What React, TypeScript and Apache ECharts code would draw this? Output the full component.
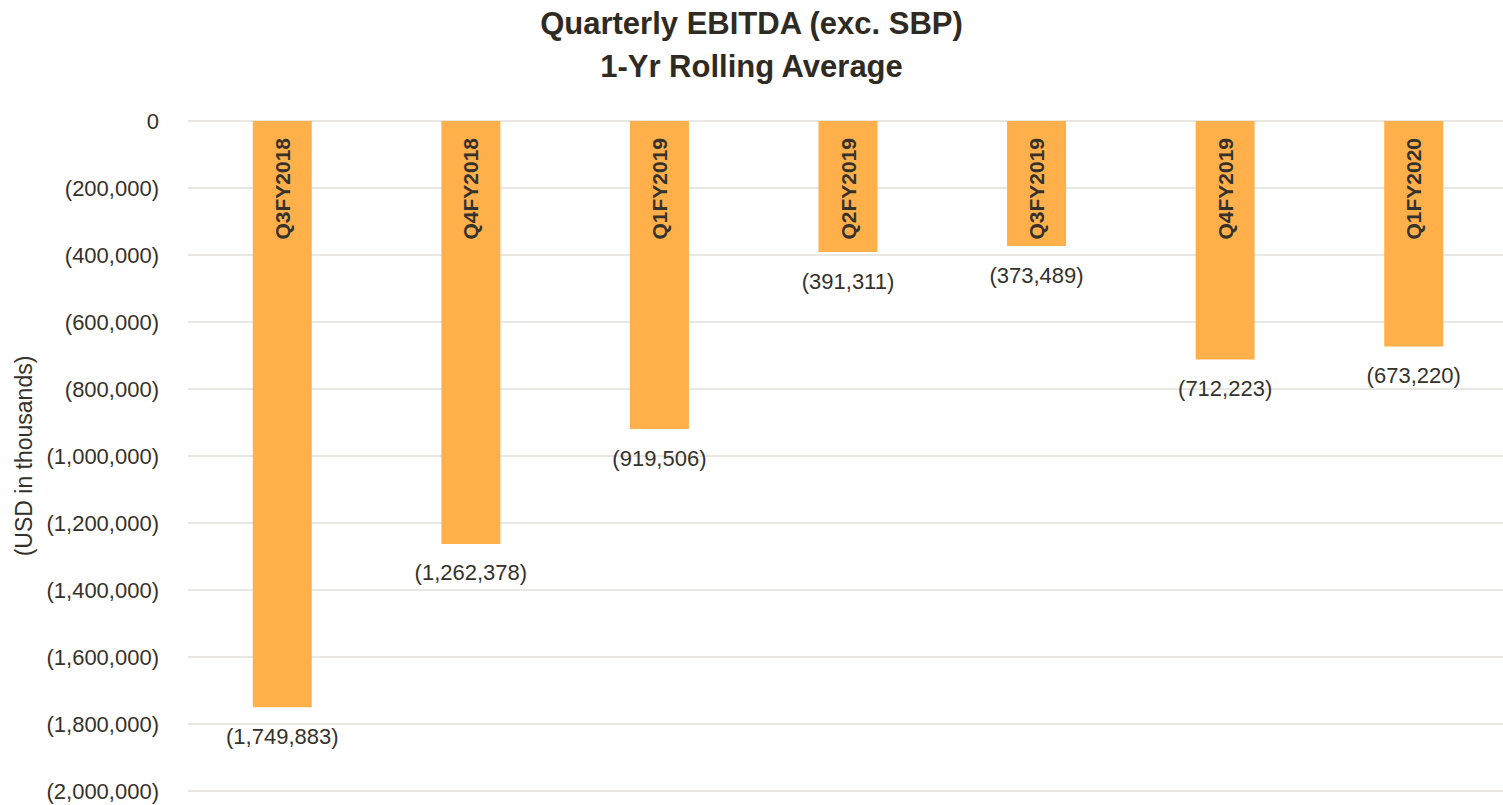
import React, { useEffect, useRef } from "react";
import * as echarts from "echarts";

const categories = ["Q3FY2018", "Q4FY2018", "Q1FY2019", "Q2FY2019", "Q3FY2019", "Q4FY2019", "Q1FY2020"];
const ebitdaValues = [-1749883, -1262378, -919506, -391311, -373489, -712223, -673220];
const titleLines = ["Quarterly EBITDA (exc. SBP)", "1-Yr Rolling Average"];
const yAxisName = "(USD in thousands)";

const FONT = "'Liberation Sans', Arial, sans-serif";
const TEXT = "#35322b";

function fmt(v: number): string {
  if (v === 0) return "0";
  const s = Math.abs(v).toLocaleString("en-US");
  return v < 0 ? "(" + s + ")" : s;
}

export default function App() {
  const ref = useRef<HTMLDivElement>(null);
  useEffect(() => {
    if (!ref.current) return;
    const chart = echarts.init(ref.current, null, { renderer: "svg" });
    chart.setOption({
      animation: false,
      backgroundColor: "#ffffff",
      textStyle: { fontFamily: FONT },
      title: {
        text: titleLines.join("\n"),
        left: "center",
        top: 0,
        padding: [2, 5, 5, 5],
        textStyle: { fontFamily: FONT, fontSize: 31, fontWeight: "bold", color: "#2f2a22", lineHeight: 43 },
      },
      grid: { left: 188, right: -5, top: 121, bottom: 14, containLabel: false, outerBoundsMode: "none" },
      xAxis: {
        type: "category",
        data: categories,
        position: "top",
        axisLine: { show: false },
        axisTick: { show: false },
        axisLabel: { show: false },
      },
      yAxis: {
        type: "value",
        min: -2000000,
        max: 0,
        interval: 200000,
        name: yAxisName,
        nameLocation: "middle",
        nameRotate: 90,
        nameGap: 150,
        nameTextStyle: { fontFamily: FONT, fontSize: 23, color: TEXT },
        axisLine: { show: false },
        axisTick: { show: false },
        axisLabel: { formatter: (v: number) => fmt(v), fontFamily: FONT, fontSize: 22, color: TEXT, margin: 29 },
        splitLine: { lineStyle: { color: "#e2dfd8", width: 1.5 } },
      },
      series: [
        {
          type: "bar",
          data: ebitdaValues,
          barWidth: 59,
          itemStyle: { color: "#FFB04A" },
          label: {
            show: true,
            position: "bottom",
            distance: 18,
            formatter: (p: any) => fmt(p.value),
            fontFamily: FONT,
            fontSize: 22,
            color: TEXT,
          },
        },
        {
          type: "bar",
          data: ebitdaValues,
          barWidth: 59,
          barGap: "-100%",
          itemStyle: { color: "transparent" },
          silent: true,
          label: {
            show: true,
            position: "insideTop",
            distance: 17,
            rotate: 90,
            align: "right",
            verticalAlign: "middle",
            formatter: "{b}",
            fontFamily: FONT,
            fontSize: 21,
            fontWeight: "bold",
            color: TEXT,
          },
        },
      ],
    });
    return () => chart.dispose();
  }, []);
  return <div ref={ref} style={{ width: 1503, height: 805, position: "absolute", left: 0, top: 0 }} />;
}
